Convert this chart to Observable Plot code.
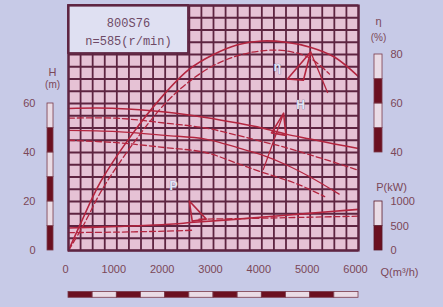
<!DOCTYPE html>
<html><head><meta charset="utf-8">
<script src="https://cdn.jsdelivr.net/npm/d3@7"></script>
<script src="https://cdn.jsdelivr.net/npm/@observablehq/plot@0.6"></script>
<style>
html,body{margin:0;padding:0;background:#c7cae7;overflow:hidden;}
#chart svg{display:block;}
</style></head><body><div id="chart"></div>
<script>
// ---- data ----
const qTicks = [0, 1000, 2000, 3000, 4000, 5000, 6000];
const hTicks = [0, 20, 40, 60];
const etaTicks = [40, 60, 80];
const pTicks = [0, 500, 1000];
const titleModel = "800S76";
const titleSpeed = "n=585(r/min)";

// Q (m3/h), H (m)
const head1 = [[0,58],[1000,58],[2000,56.5],[2834,54.3],[3500,52],[4000,50],[4500,47.5],[5000,45.5],[5500,43.5],[6000,41.6]];
const head2 = [[0,54],[1000,54],[2000,52],[2834,50],[3500,47],[4000,44.5],[4500,42],[5000,39],[5500,36],[6000,32.7]];
const head3 = [[0,49],[1000,48.5],[2000,47],[2834,45.5],[3500,42],[4000,39],[4500,35],[5000,30],[5600,23]];
const head4 = [[0,45],[1000,44],[2000,42],[2834,40],[3500,35.5],[4000,32],[4750,27],[5300,22]];
// Q, eta (%)
const eta1 = [[0,0],[250,11],[662,28],[1300,47],[1945,63],[2500,74],[3000,80],[3500,84],[4000,85.5],[4500,85],[5000,83],[5500,79],[6000,71]];
const eta2 = [[0,0],[300,10],[700,25],[1350,44],[2000,60],[2500,69],[3000,75.5],[3500,79.5],[4000,81.5],[4500,81.5],[5000,78.5],[5400,72]];
// Q, P (kW)
const power1 = [[0,460],[1000,490],[2000,530],[2600,575],[3500,640],[4500,720],[5500,800],[6000,840]];
const power2 = [[0,365],[1000,375],[2000,395],[2600,415]];
const power3 = [[2700,640],[3500,650],[4500,670],[5500,690],[6000,700]];
// operating-range markers
const markH = [[4450,56],[4200,48],[4500,47],[4450,56]];
const markHLine = [[4450,56],[4030,33]];
const markEta = [[4530,70],[5010,81],[4860,69.5],[4530,70]];
const markEtaLine = [[5010,81],[5360,64.5]];
const markP = [[2500,1010],[2560,600],[2850,640],[2500,1010]];
// scale-bar segments
const hBar = [0,10,20,30,40,50,60];
const etaBar = [40,50,60,70,80];
const pBar = [0,500,1000];
const qBar = [0,500,1000,1500,2000,2500,3000,3500,4000,4500,5000,5500,6000];

// ---- styling ----
const C = {cell:"#e6c2d5", grid:"#5e2441", curve:"#b3253f", dark:"#6b1020", light:"#eadce6", text:"#7b4757", box:"#dfe0f2"};
const P_PER_UNIT = 50; // 1000 kW spans 20 units of the shared scale
const pu = v => v / P_PER_UNIT;

const segs = (arr, f) => arr.slice(0,-1).map((v,i)=>({a:f(v), b:f(arr[i+1]), dark: i%2===0}));
const hSegs = segs(hBar, v=>v);
const etaSegs = segs(etaBar, v=>v);
const pSegs = segs(pBar, pu);
const qSegs = segs(qBar, v=>v);

const line = (data, f, dashed, w) => Plot.line(data, {x: d=>d[0], y: d=>f(d[1]), stroke: C.curve, strokeWidth: w||1.5, strokeDasharray: dashed ? "6,3" : null, curve: "catmull-rom"});
const id = v=>v;

const vGrid = d3.range(0, 6001, 250);
const hGrid = d3.range(0, 101, 5);
const lbl = {fontSize: 12, fontWeight: "bold", fill: "#e4e6f6", stroke: "#6f739d", strokeWidth: 0.7};

const chart = Plot.plot({
  width: 443, height: 307,
  marginLeft: 68, marginRight: 85, marginTop: 5, marginBottom: 57,
  x: {domain: [0, 6000]},
  y: {domain: [0, 100]},
  style: {background: "#c7cae7", fontFamily: "'Liberation Sans Narrow', 'Liberation Sans', sans-serif", overflow: "visible"},
  marks: [
    Plot.frame({fill: C.cell, stroke: null}),
    Plot.ruleX(vGrid, {y1: 0, y2: 100, stroke: C.grid, strokeWidth: 1.8}),
    Plot.ruleY(hGrid, {x1: 0, x2: 6000, stroke: C.grid, strokeWidth: 1.8}),
    // title box
    Plot.rect([0], {x1: 0, x2: 2483, y1: 80.4, y2: 100, fill: C.box, stroke: C.grid, strokeWidth: 1.8}),
    Plot.text([titleModel], {x: 1241, y: 92.6, text: d=>d, fontSize: 12, fontFamily: "'Liberation Mono', monospace", fill: "#6e4a66"}),
    Plot.text([titleSpeed], {x: 1241, y: 85.6, text: d=>d, fontSize: 12, fontFamily: "'Liberation Mono', monospace", fill: "#6e4a66"}),
    // curves
    line(eta1, id, false, 1.6),
    line(eta2, id, true, 1.3),
    line(head1, id, false, 1.5),
    line(head2, id, true, 1.3),
    line(head3, id, false, 1.3),
    line(head4, id, true, 1.3),
    line(power1, pu, false, 1.6),
    line(power2, pu, true, 1.3),
    line(power3, pu, true, 1.3),
    Plot.line(markH, {x: d=>d[0], y: d=>d[1], stroke: C.curve, strokeWidth: 1.6}),
    Plot.line(markHLine, {x: d=>d[0], y: d=>d[1], stroke: C.curve, strokeWidth: 1.3}),
    Plot.line(markEta, {x: d=>d[0], y: d=>d[1], stroke: C.curve, strokeWidth: 1.6}),
    Plot.line(markEtaLine, {x: d=>d[0], y: d=>d[1], stroke: C.curve, strokeWidth: 1.3}),
    Plot.line(markP, {x: d=>d[0], y: d=>pu(d[1]), stroke: C.curve, strokeWidth: 1.6}),
    // curve labels
    Plot.text(["H"], {x: 4800, y: 59.2, text: d=>d, ...lbl}),
    Plot.text(["η"], {x: 4324, y: 74.7, text: d=>d, ...lbl}),
    Plot.text(["P"], {x: 2172, y: 26.1, text: d=>d, ...lbl}),
    Plot.frame({stroke: C.grid, strokeWidth: 2.2}),
    // scale bars
    Plot.rect(hSegs, {x1: -434, x2: -310, y1: "a", y2: "b", fill: d=>d.dark ? C.dark : C.light, stroke: "#7a3a4a", strokeWidth: 0.8}),
    Plot.rect(etaSegs, {x1: 6331, x2: 6497, y1: "a", y2: "b", fill: d=>d.dark ? C.dark : C.light, stroke: "#7a3a4a", strokeWidth: 0.8}),
    Plot.rect(pSegs, {x1: 6331, x2: 6497, y1: "a", y2: "b", fill: d=>d.dark ? C.dark : C.light, stroke: "#5a1a2a", strokeWidth: 0.8}),
    Plot.rect(qSegs, {x1: "a", x2: "b", y1: -16.9, y2: -19.3, fill: d=>d.dark ? C.dark : C.light, stroke: "#7a3a4a", strokeWidth: 0.8}),
    // axes
    Plot.axisY(hTicks, {anchor: "left", tickSize: 0, tickPadding: 33, fontSize: 11, fill: C.text}),
    Plot.axisY(etaTicks, {anchor: "right", tickSize: 0, tickPadding: 32, fontSize: 11, fill: C.text}),
    Plot.axisY(pTicks.map(pu), {anchor: "right", tickSize: 0, tickPadding: 32, fontSize: 11, fill: C.text, tickFormat: v => String(v * P_PER_UNIT)}),
    Plot.axisX(qTicks, {anchor: "bottom", tickSize: 0, tickPadding: 15, fontSize: 11, fill: C.text, dx: -3, tickFormat: v => String(v)}),
    // axis titles
    Plot.text(["H"], {x: -330, y: 72.7, text: d=>d, fontSize: 11, fill: C.text}),
    Plot.text(["(m)"], {x: -330, y: 67.6, text: d=>d, fontSize: 10, fill: C.text}),
    Plot.text(["η"], {x: 6414, y: 93.6, text: d=>d, fontSize: 11, fill: C.text}),
    Plot.text(["(%)"], {x: 6414, y: 86.9, text: d=>d, fontSize: 10, fill: C.text}),
    Plot.text(["P(kW)"], {x: 6683, y: 25.7, text: d=>d, fontSize: 11, fill: C.text}),
    Plot.text(["Q(m³/h)"], {x: 6848, y: -8.8, text: d=>d, fontSize: 11, fill: C.text})
  ]
});
document.getElementById("chart").append(chart);
</script></body></html>
